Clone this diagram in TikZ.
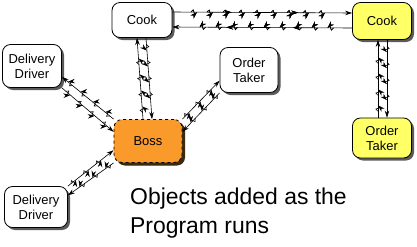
\documentclass[tikz,border=0pt]{standalone}
\usepackage{fontspec}
\setmainfont{Liberation Sans}
\usetikzlibrary{arrows.meta, shadows, decorations.markings}

\definecolor{boxshade}{HTML}{5A5A5A}
\definecolor{newyellow}{HTML}{FFFF66}
\definecolor{bossorange}{HTML}{F99A2A}
\definecolor{bossshade}{HTML}{3A2A10}

\begin{document}
\begin{tikzpicture}[
  x=1bp, y=-1bp,
  obj/.style={rectangle, draw, line width=0.8pt, rounded corners=8bp, fill=white,
    align=center, inner sep=0pt, font=\fontsize{13}{15}\selectfont,
    drop shadow={shadow xshift=2.5bp, shadow yshift=-2.5bp, fill=boxshade, opacity=1}},
  added/.style={obj, fill=newyellow},
  boss/.style={obj, fill=bossorange, dashed,
    drop shadow={shadow xshift=3bp, shadow yshift=-3bp, fill=bossshade, opacity=1}},
  zap/.style={draw, line width=0.6pt, -{Stealth[length=7bp, width=4.5bp]},
    postaction={decorate},
    decoration={markings,
      mark=between positions 0.12 and 0.88 step 16bp with {
        \draw[line width=0.6pt, solid] (-3bp,0) -- (-0.8bp,2.2bp) -- (0.8bp,-2.2bp) -- (3bp,0);}}},
  midtips/.style={postaction={decorate},
    decoration={markings,
      mark=at position 0.33 with {\arrow{Stealth[length=7bp, width=4.5bp]}},
      mark=at position 0.7 with {\arrow{Stealth[length=7bp, width=4.5bp]}}}}
]
  \useasboundingbox (0,0) rectangle (417,247);

  % objects at the start
  \node[obj, minimum width=60bp, minimum height=35bp] (cook) at (142,20) {Cook};
  \node[obj, minimum width=59bp, minimum height=43bp] (driverA) at (32,66) {Delivery\\Driver};
  \node[obj, minimum width=58bp, minimum height=45bp] (taker) at (249,70) {Order\\Taker};
  \node[boss, minimum width=68bp, minimum height=43bp] (boss) at (148,141) {Boss};
  \node[obj, minimum width=63bp, minimum height=41bp] (driverB) at (36,207) {Delivery\\Driver};

  % objects added later
  \node[added, minimum width=59bp, minimum height=37bp] (cookB) at (382,21) {Cook};
  \node[added, minimum width=59bp, minimum height=40bp] (takerB) at (382,138) {Order\\Taker};

  % messages
  \draw[zap, midtips] ([yshift=-7bp]cookB.west) -- ([yshift=-7bp]cook.east);
  \draw[zap, midtips] ([yshift=8bp]cook.east) -- ([yshift=8bp]cookB.west);

  \draw[zap] ([xshift=-5bp]boss.north) -- ([xshift=-5bp]cook.south);
  \draw[zap] ([xshift=4bp]cook.south) -- ([xshift=4bp]boss.north);

  \draw[zap] ([xshift=-4bp]takerB.north) -- ([xshift=-4bp]cookB.south);
  \draw[zap] ([xshift=5bp]cookB.south) -- ([xshift=5bp]takerB.north);

  \draw[zap] (boss.north west) -- (driverA.-20);
  \draw[zap] (driverA.south east) -- (boss.165);

  \draw[zap] (boss.north east) -- (taker.200);
  \draw[zap] (taker.south west) -- (boss.15);

  \draw[zap] (driverB.north east) -- (boss.-165);
  \draw[zap] (boss.south west) -- (driverB.20);

  \node[anchor=north west, align=left, inner sep=0pt,
    font=\fontsize{23}{29}\selectfont] (note) at (130,188)
    {Objects added as the\\Program runs};
\end{tikzpicture}
\end{document}
